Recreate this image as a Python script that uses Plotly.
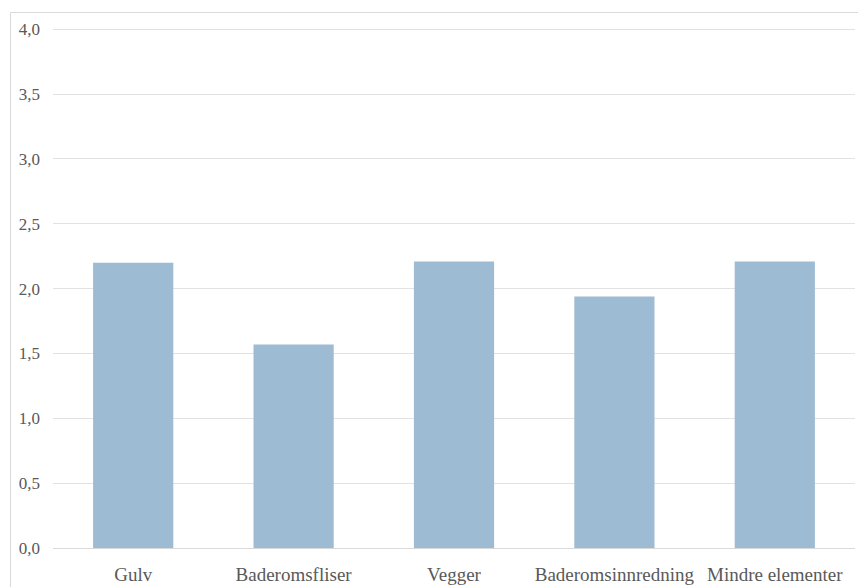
import plotly.graph_objects as go

categories = ["Gulv", "Baderomsfliser", "Vegger", "Baderomsinnredning", "Mindre elementer"]
values = [2.20, 1.57, 2.21, 1.94, 2.21]
y_ticks = [0, 0.5, 1.0, 1.5, 2.0, 2.5, 3.0, 3.5, 4.0]
y_range = [0, 4.01]

W, H = 858, 587
ml, mr, mt, mb = 53, 3, 28, 39
pw, ph = W - ml - mr, H - mt - mb

def px_to_paper_x(px):
    return (px - ml) / pw

def px_to_paper_y(py):
    return (H - mb - py) / ph

fig = go.Figure(
    go.Bar(
        x=categories,
        y=values,
        marker=dict(color="#9dbbd3", line=dict(width=0)),
        hoverinfo="x+y",
    )
)

fig.update_layout(
    width=W,
    height=H,
    margin=dict(l=ml, r=mr, t=mt, b=mb),
    paper_bgcolor="white",
    plot_bgcolor="white",
    separators=", ",
    bargap=0.5,
    showlegend=False,
    font=dict(family="Liberation Serif, Times New Roman, serif", color="#595959"),
    shapes=[
        dict(
            type="rect",
            xref="paper",
            yref="paper",
            x0=px_to_paper_x(10.5),
            x1=px_to_paper_x(880),
            y0=px_to_paper_y(620),
            y1=px_to_paper_y(12.5),
            line=dict(color="#d9d9d9", width=1),
            fillcolor="rgba(0,0,0,0)",
            layer="below",
        )
    ],
)

fig.update_yaxes(
    range=y_range,
    tickvals=y_ticks,
    tickformat=".1f",
    showgrid=True,
    gridcolor="#e2e2e2",
    gridwidth=1,
    zeroline=False,
    showline=False,
    ticks="",
    ticklabelstandoff=12,
    tickfont=dict(size=17, color="#595959"),
)

fig.update_xaxes(
    showgrid=False,
    showline=True,
    linecolor="#d9d9d9",
    linewidth=1,
    ticks="",
    ticklabelstandoff=9,
    tickfont=dict(size=19, color="#595959"),
)

fig.write_html("out.html")
